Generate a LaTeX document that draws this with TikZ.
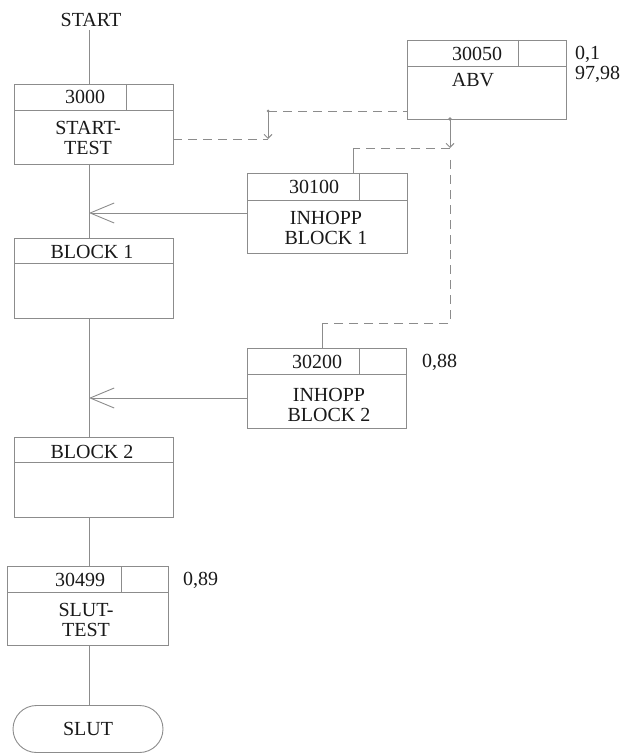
\documentclass[tikz,border=0pt]{standalone}
\usepackage{fontspec}
\setmainfont{Liberation Serif}
\usetikzlibrary{arrows.meta,shapes.misc}
\begin{document}
\begin{tikzpicture}[x=1pt,y=-1pt,
  line/.style={draw=black!45, line width=0.9pt},
  box/.style={line, rectangle, inner sep=0pt, outer sep=0pt},
  txt/.style={font=\fontsize{20}{20}\selectfont, text=black!90, inner sep=0pt, align=center},
  dsh/.style={line, dash pattern=on 9pt off 6pt},
  bigarrow/.style={line, -{Straight Barb[length=24pt,width=20pt]}},
  smallarrow/.style={line, -{Straight Barb[length=4pt,width=8pt]}},
]
\useasboundingbox (0,0) rectangle (623,754);
\coordinate (m) at (89,0);

% boxes
\node[box, minimum width=159pt, minimum height=80pt] (b3000) at (93.5,124) {};
\draw[line] ([yshift=-26pt]b3000.north west) -- ([yshift=-26pt]b3000.north east);
\draw[line] ([xshift=112pt]b3000.north west) -- ([xshift=112pt,yshift=-26pt]b3000.north west);

\node[box, minimum width=159pt, minimum height=79pt] (b30050) at (486.5,79.5) {};
\draw[line] ([yshift=-26pt]b30050.north west) -- ([yshift=-26pt]b30050.north east);
\draw[line] ([xshift=111pt]b30050.north west) -- ([xshift=111pt,yshift=-26pt]b30050.north west);

\node[box, minimum width=160pt, minimum height=80pt] (b30100) at (327,213) {};
\draw[line] ([yshift=-27pt]b30100.north west) -- ([yshift=-27pt]b30100.north east);
\draw[line] ([xshift=112pt]b30100.north west) -- ([xshift=112pt,yshift=-27pt]b30100.north west);

\node[box, minimum width=159pt, minimum height=80pt] (block1) at (93.5,278) {};
\draw[line] ([yshift=-25pt]block1.north west) -- ([yshift=-25pt]block1.north east);

\node[box, minimum width=159pt, minimum height=80pt] (b30200) at (326.5,388) {};
\draw[line] ([yshift=-26pt]b30200.north west) -- ([yshift=-26pt]b30200.north east);
\draw[line] ([xshift=112pt]b30200.north west) -- ([xshift=112pt,yshift=-26pt]b30200.north west);

\node[box, minimum width=159pt, minimum height=80pt] (block2) at (93.5,477) {};
\draw[line] ([yshift=-25pt]block2.north west) -- ([yshift=-25pt]block2.north east);

\node[box, minimum width=161pt, minimum height=79pt] (b30499) at (87.5,605.5) {};
\draw[line] ([yshift=-26pt]b30499.north west) -- ([yshift=-26pt]b30499.north east);
\draw[line] ([xshift=114pt]b30499.north west) -- ([xshift=114pt,yshift=-26pt]b30499.north west);

\node[line, rounded rectangle, minimum width=150pt, minimum height=47pt, inner sep=0pt, outer sep=0pt,
      font=\fontsize{20}{20}\selectfont, text=black!90] (slut) at (88,729) {SLUT};

% texts
\node[txt] (start) at (91,20) {START};
\node[txt] (t3000) at (85,97) {3000};
\node[txt] (n3000) at (88,138) {START-\\TEST};
\node[txt] (t30050) at (477,54) {30050};
\node[txt] (n30050) at (473,80) {ABV};
\node[txt, anchor=west, align=left] (p30050) at (575,64) {0,1\\97,98};
\node[txt] (t30100) at (314,187) {30100};
\node[txt] (n30100) at (326,228) {INHOPP\\BLOCK 1};
\node[txt] (n1) at (92,252) {BLOCK 1};
\node[txt] (t30200) at (317,362) {30200};
\node[txt, anchor=west] (p30200) at (422,362) {0,88};
\node[txt] (n30200) at (329,405) {INHOPP\\BLOCK 2};
\node[txt] (n2) at (92,452) {BLOCK 2};
\node[txt] (t30499) at (80,580) {30499};
\node[txt, anchor=west] (p30499) at (183,580) {0,89};
\node[txt] (n30499) at (86,620) {SLUT-\\TEST};

% main flow
\draw[line] ([yshift=-3pt]start.south -| m) -- (b3000.north -| m);
\draw[line] (b3000.south -| m) -- (block1.north -| m);
\draw[line] (block1.south -| m) -- (block2.north -| m);
\draw[line] (block2.south -| m) -- (b30499.north -| m);
\draw[line] (b30499.south -| m) -- (slut.north -| m);

\draw[bigarrow] (b30100.west) -- (b30100.west -| m);
\draw[bigarrow] ([yshift=-10pt]b30200.west) -- ([yshift=-10pt]b30200.west -| m);

% dashed links
\coordinate (d1) at (268,139);
\coordinate (d2) at (268,111);
\draw[dsh] ([yshift=-15pt]b3000.east) -- (d1);
\draw[smallarrow] (d2) -- (d1);
\draw[dsh] (d2) -- (d2 -| b30050.west);
\fill[black!45] (d2) circle (1.5);

\coordinate (a1) at (450,148);
\coordinate (a2) at (353,148);
\coordinate (a3) at (450,323);
\coordinate (a4) at (322,323);
\draw[smallarrow] (b30050.south -| a1) -- (a1);
\fill[black!45] (b30050.south -| a1) circle (1.8);
\draw[dsh] (a1) -- (a2);
\draw[line] (a2) -- (a2 |- b30100.north);
\draw[dsh] ([yshift=-12pt]a1) -- (a3) -- (a4);
\draw[line] (a4) -- (a4 |- b30200.north);
\end{tikzpicture}
\end{document}
